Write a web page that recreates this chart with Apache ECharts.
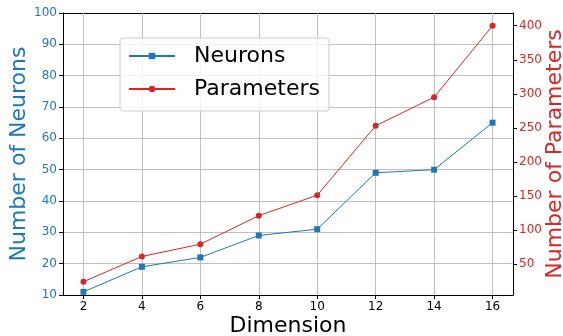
<!DOCTYPE html>
<html>
<head>
<meta charset="utf-8">
<script src="https://cdn.jsdelivr.net/npm/echarts@6/dist/echarts.min.js"></script>
<style>html,body{margin:0;padding:0;background:#fff}#c{width:563px;height:336px}</style>
</head>
<body>
<div id="c"></div>
<script>
const dimensions = [2, 4, 6, 8, 10, 12, 14, 16];
const neurons = [11, 19, 22, 29, 31, 49, 50, 65];
const parameters = [24, 61, 79, 121, 151, 253, 295, 400];
const xTicks = [2, 4, 6, 8, 10, 12, 14, 16];
const rightTicks = [50, 100, 150, 200, 250, 300, 350, 400];

const FONT = 'DejaVu Sans';
const BLUE = '#1f77b4', RED = '#d62728', GRID = '#b0b0b0';

const chart = echarts.init(document.getElementById('c'));
const axisLineStyle = {show: true, lineStyle: {color: '#000', width: 1}};
chart.setOption({
  animation: false,
  backgroundColor: '#fff',
  grid: {left: 63, right: 50, top: 13, bottom: 41, containLabel: false, outerBoundsMode: 'none'},
  legend: {
    orient: 'vertical', left: 120, top: 38,
    padding: [5, 9, 9, 8], itemGap: 7, itemWidth: 46, itemHeight: 8,
    backgroundColor: 'rgba(255,255,255,0.8)', borderColor: '#cccccc', borderWidth: 1, borderRadius: 3,
    textStyle: {fontFamily: FONT, fontSize: 22, color: '#000', lineHeight: 26, padding: [0, 0, 0, 14]},
    data: ['Neurons', 'Parameters']
  },
  xAxis: [{
    type: 'value', min: 1.3, max: 16.7,
    name: 'Dimension', nameLocation: 'middle', nameGap: 20, nameMoveOverlap: false,
    nameTextStyle: {fontFamily: FONT, fontSize: 22, color: '#000'},
    axisLine: axisLineStyle,
    axisTick: {show: true, inside: false, length: 4, customValues: xTicks, lineStyle: {color: '#000'}},
    axisLabel: {customValues: xTicks, fontFamily: FONT, fontSize: 12, color: '#000', margin: 6},
    splitLine: {show: false}
  }, {
    type: 'value', position: 'top', min: 1.3, max: 16.7,
    axisLine: axisLineStyle, axisTick: {show: false}, axisLabel: {show: false}, splitLine: {show: false}
  }],
  yAxis: [{
    type: 'value', min: 10, max: 100, interval: 10, position: 'left',
    name: 'Number of Neurons', nameLocation: 'middle', nameGap: 33, nameRotate: 90, nameMoveOverlap: false,
    nameTextStyle: {fontFamily: FONT, fontSize: 22, color: BLUE},
    axisLine: axisLineStyle,
    axisTick: {show: true, length: 4, lineStyle: {color: '#000'}},
    axisLabel: {fontFamily: FONT, fontSize: 12, color: BLUE, margin: 6},
    splitLine: {show: true, lineStyle: {color: GRID, width: 0.8}}
  }, {
    type: 'value', min: 4.4, max: 418.7, position: 'right',
    name: 'Number of Parameters', nameLocation: 'middle', nameGap: 31, nameRotate: 90, nameMoveOverlap: false,
    nameTextStyle: {fontFamily: FONT, fontSize: 22, color: RED},
    axisLine: axisLineStyle,
    axisTick: {show: true, length: 4, customValues: rightTicks, lineStyle: {color: '#000'}},
    axisLabel: {customValues: rightTicks, fontFamily: FONT, fontSize: 12, color: RED, margin: 6},
    splitLine: {show: false}
  }],
  series: [{
    name: 'Neurons', type: 'line', xAxisIndex: 0, yAxisIndex: 0, z: 3,
    data: dimensions.map((d, i) => [d, neurons[i]]),
    symbol: 'rect', symbolSize: 6,
    lineStyle: {color: BLUE, width: 1}, itemStyle: {color: BLUE},
    markLine: {
      silent: true, symbol: 'none', z: 1, animation: false,
      label: {show: false},
      lineStyle: {color: GRID, width: 0.8, type: 'solid'},
      data: xTicks.map(v => ({xAxis: v}))
    }
  }, {
    name: 'Parameters', type: 'line', xAxisIndex: 0, yAxisIndex: 1, z: 3,
    data: dimensions.map((d, i) => [d, parameters[i]]),
    symbol: 'circle', symbolSize: 6,
    lineStyle: {color: RED, width: 1}, itemStyle: {color: RED}
  }]
});
</script>
</body>
</html>
